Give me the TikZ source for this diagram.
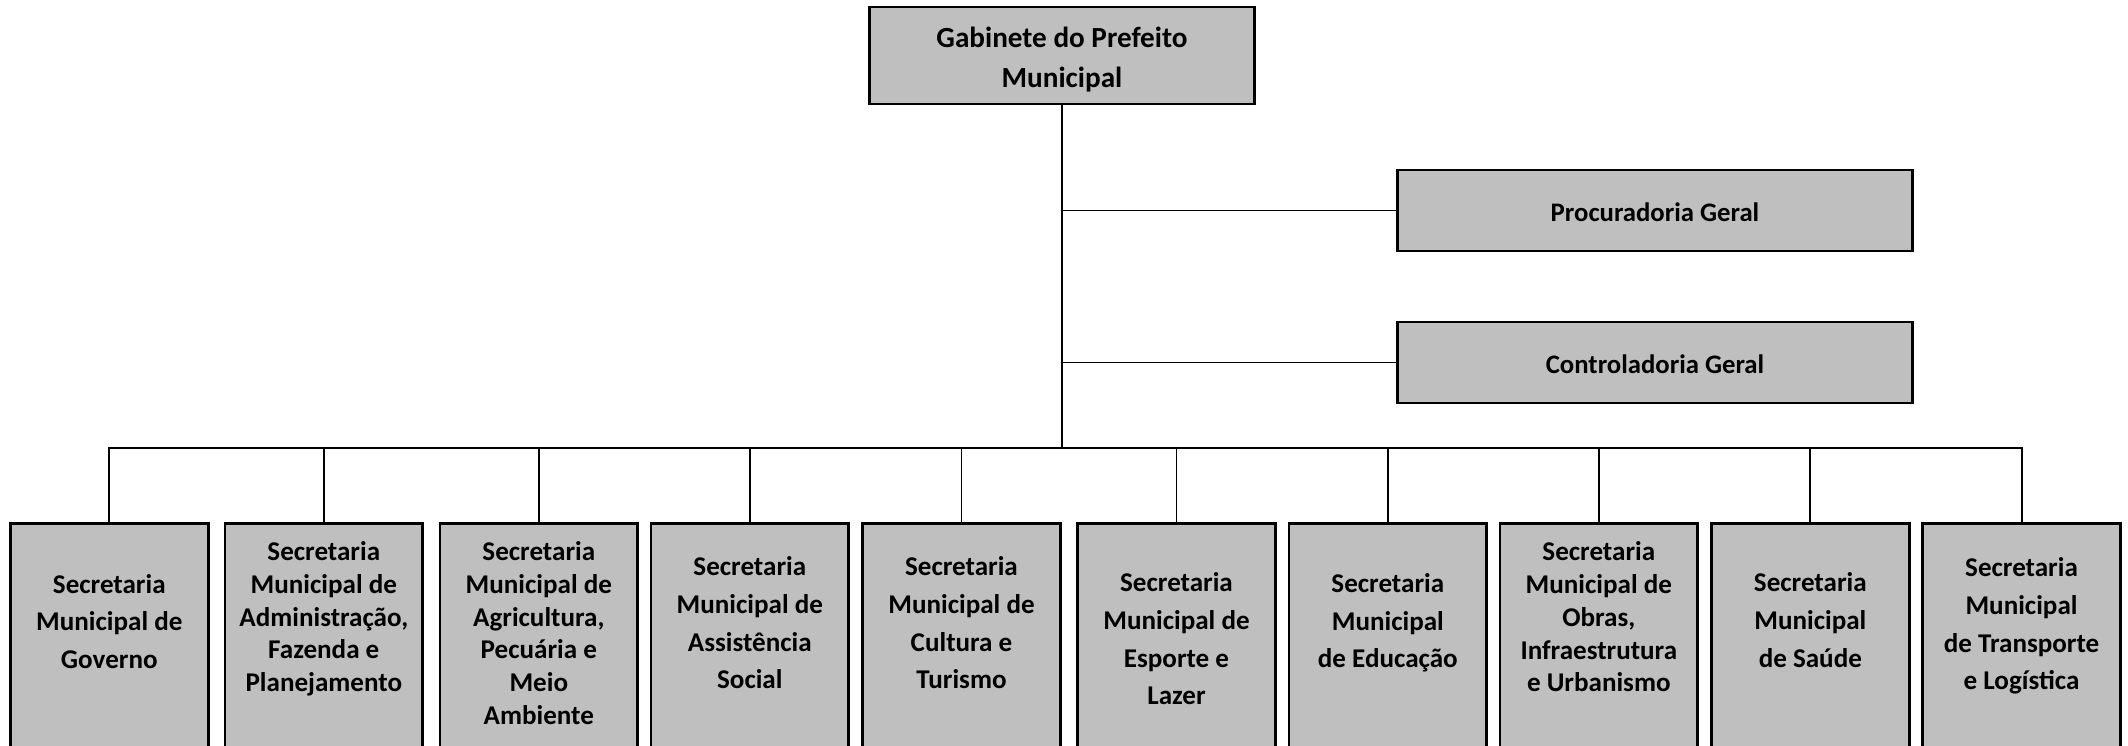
\documentclass[tikz,border=0pt]{standalone}
\usepackage{fontspec}
\setmainfont{Carlito}
\definecolor{cinza}{RGB}{191,191,191}

\begin{document}
\begin{tikzpicture}[x=0.01cm,y=-0.01cm,
    caixa/.style={draw, line width=0.8pt, fill=cinza, inner sep=0pt},
    secretaria/.style={caixa, anchor=north, minimum width=1.975cm, minimum height=2.6cm},
    rotulo/.style={align=center, inner sep=0pt, font=\bfseries\fontsize{7.7}{10.7}\selectfont},
    rotulolongo/.style={align=center, inner sep=0pt, font=\bfseries\fontsize{7.7}{9.3}\selectfont},
    linha/.style={line width=0.55pt}]
        \useasboundingbox (0,0) rectangle (2128,746); %tamanho da imagem
        \clip (0,0) rectangle (2128,746); %corta as caixas de baixo
        % caixas de cima
        \node[caixa, minimum width=3.85cm, minimum height=0.97cm] (gabinete) at (1062,55.5) {};
        \node[rotulo, font=\bfseries\fontsize{8.3}{11.6}\selectfont] (txtgab) at (1062,59.6) {Gabinete do Prefeito\\Municipal};
        \node[caixa, minimum width=5.14cm, minimum height=0.81cm] (procuradoria) at (1655,210.5) {};
        \node[rotulo, font=\bfseries\fontsize{7.6}{10.7}\selectfont] (txtproc) at (1655,212.5) {Procuradoria Geral};
        \node[caixa, minimum width=5.14cm, minimum height=0.81cm] (controladoria) at (1655,362.5) {};
        \node[rotulo, font=\bfseries\fontsize{7.6}{10.7}\selectfont] (txtcontr) at (1655,364.5) {Controladoria Geral};
        % secretarias
        \node[secretaria] (sec1) at (109.3,522) {};
        \node[secretaria] (sec2) at (323.8,522) {};
        \node[secretaria] (sec3) at (538.8,522) {};
        \node[secretaria] (sec4) at (749.8,522) {};
        \node[secretaria] (sec5) at (961.5,522) {};
        \node[secretaria] (sec6) at (1176.5,522) {};
        \node[secretaria] (sec7) at (1387.8,522) {};
        \node[secretaria] (sec8) at (1598.8,522) {};
        \node[secretaria] (sec9) at (1810.3,522) {};
        \node[secretaria] (sec10) at (2021.5,522) {};
        % textos das secretarias
        \node[rotulo] (txt1) at (109.3,621.5) {Secretaria\\Municipal de\\Governo};
        \node[rotulolongo] (txt2) at (323.8,619) {Secretaria\\Municipal de\\Administração,\\Fazenda e\\Planejamento};
        \node[rotulolongo] (txt3) at (538.8,633) {Secretaria\\Municipal de\\Agricultura,\\Pecuária e\\Meio\\Ambiente};
        \node[rotulo] (txt4) at (749.8,623) {Secretaria\\Municipal de\\Assistência\\Social};
        \node[rotulo] (txt5) at (961.5,623) {Secretaria\\Municipal de\\Cultura e\\Turismo};
        \node[rotulo] (txt6) at (1176.5,639) {Secretaria\\Municipal de\\Esporte e\\Lazer};
        \node[rotulo] (txt7) at (1387.8,623) {Secretaria\\Municipal\\de Educação};
        \node[rotulolongo] (txt8) at (1598.8,617) {Secretaria\\Municipal de\\Obras,\\Infraestrutura\\e Urbanismo};
        \node[rotulo] (txt9) at (1810.3,620) {Secretaria\\Municipal\\de Saúde};
        \node[rotulo] (txt10) at (2021.5,626) {Secretaria\\Municipal\\de Transporte\\e Logística};
        % ligacoes
        \coordinate (barra) at (1062,448); %barra horizontal
        \draw[linha] (gabinete.south) -- (barra);
        \draw[linha] (gabinete.south |- procuradoria) -- (procuradoria.west);
        \draw[linha] (gabinete.south |- controladoria) -- (controladoria.west);
        \draw[linha] (sec1.north) -- (sec1.north |- barra) -- (sec10.north |- barra) -- (sec10.north);
        \foreach \i in {2,...,9}
            \draw[linha] (sec\i.north) -- (sec\i.north |- barra);
\end{tikzpicture}
\end{document}
